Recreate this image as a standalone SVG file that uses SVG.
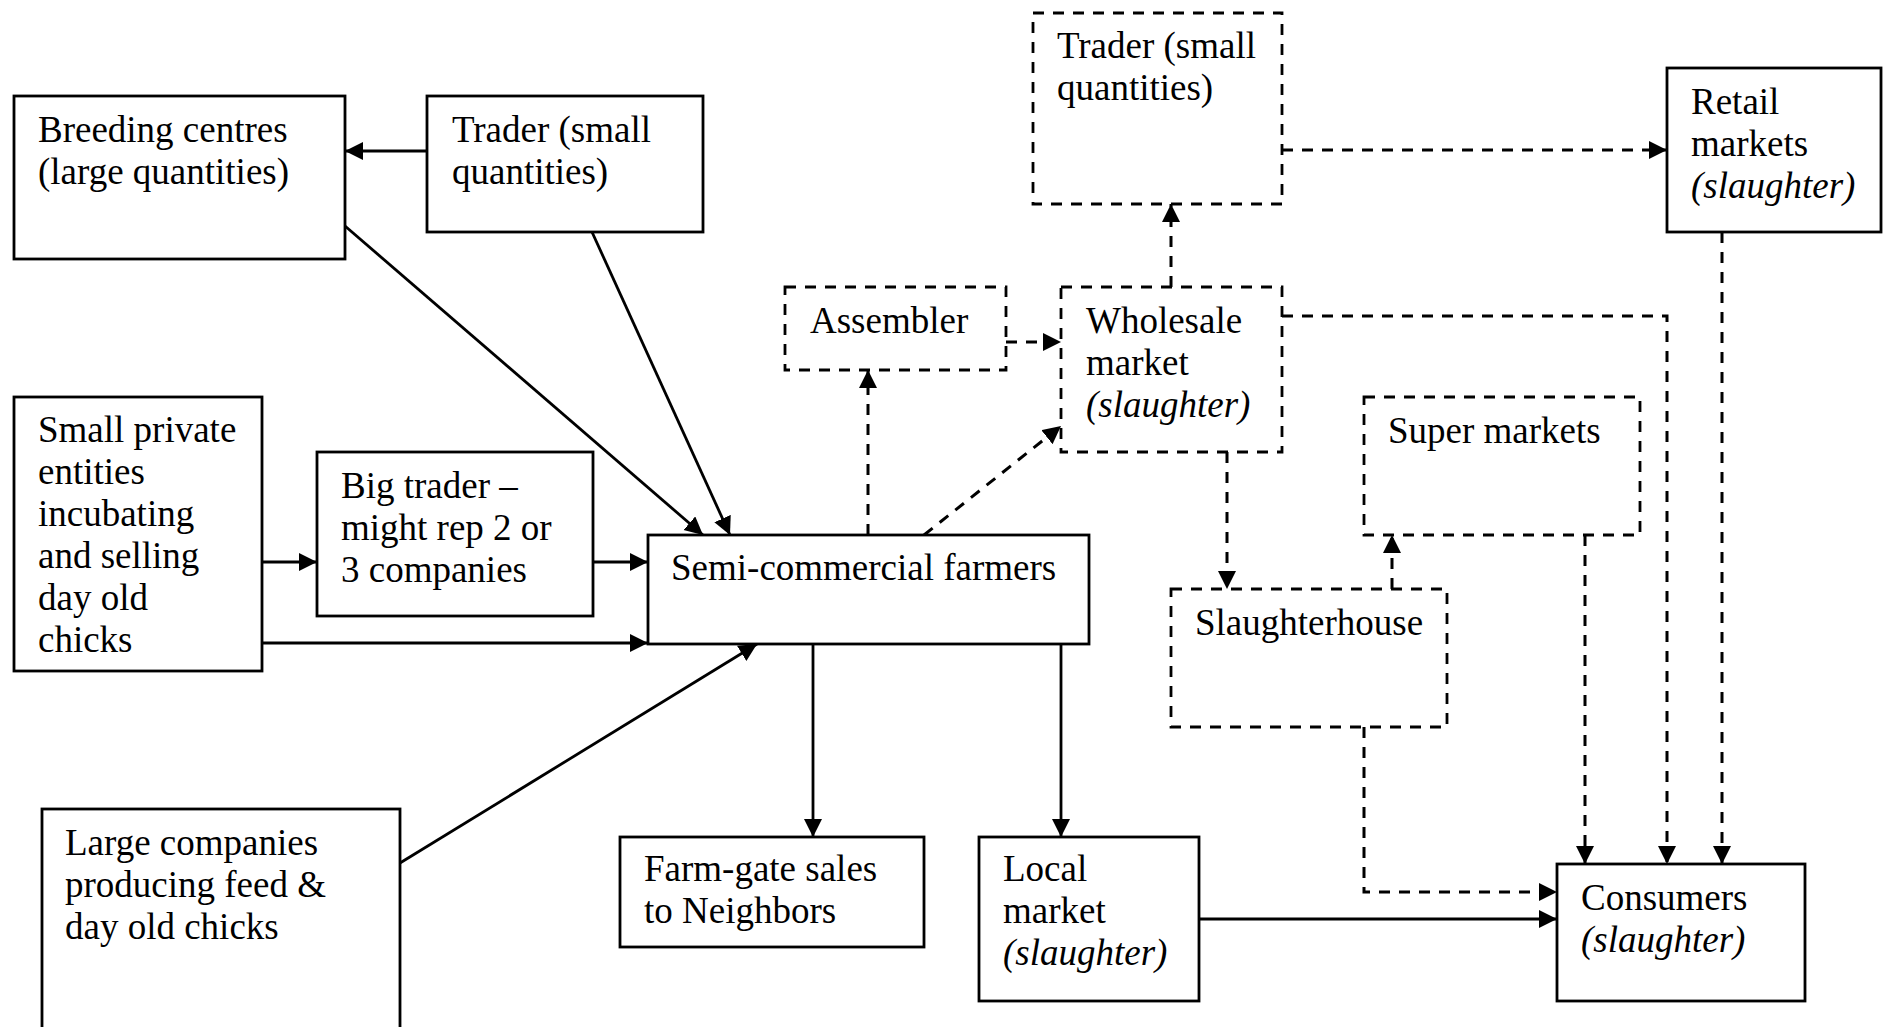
<svg xmlns="http://www.w3.org/2000/svg" width="1884" height="1027" viewBox="0 0 1884 1027">
  <style>
    .box { fill: #fff; stroke: #000; stroke-width: 2.8; }
    .dbox { fill: #fff; stroke: #000; stroke-width: 2.8; stroke-dasharray: 11 9; }
    .lbl { font-family: "Liberation Serif", "Times New Roman", serif; font-size: 37px; fill: #000; }
    .it { font-style: italic; }
    .ln { fill: none; stroke: #000; stroke-width: 2.8; marker-end: url(#arr); }
    .dln { fill: none; stroke: #000; stroke-width: 3; stroke-dasharray: 11 9; marker-end: url(#arr); }
  </style>
  <defs>
    <marker id="arr" markerUnits="userSpaceOnUse" markerWidth="19" markerHeight="19" refX="18" refY="9" orient="auto">
      <path d="M0,0 L18,9 L0,18 Z" fill="#000"/>
    </marker>
  </defs>
  <rect width="1884" height="1027" fill="#fff"/>

  <!-- connectors -->
  <g id="connectors">
    <path class="ln" d="M427,151 L345,151"/>
    <path class="ln" d="M345,226 L703,535"/>
    <path class="ln" d="M592,232 L730,535"/>
    <path class="ln" d="M262,562 L317,562"/>
    <path class="ln" d="M593,562 L648,562"/>
    <path class="ln" d="M262,643 L648,643"/>
    <path class="ln" d="M400,863 L757,644"/>
    <path class="ln" d="M813,644 L813,837"/>
    <path class="ln" d="M1061,644 L1061,837"/>
    <path class="ln" d="M1199,919 L1557,919"/>
    <path class="dln" d="M868,535 L868,370"/>
    <path class="dln" d="M924,535 L1061,426"/>
    <path class="dln" d="M1006,342 L1061,342"/>
    <path class="dln" d="M1171,287 L1171,204"/>
    <path class="dln" d="M1282,150 L1667,150"/>
    <path class="dln" d="M1227,452 L1227,589"/>
    <path class="dln" d="M1392,589 L1392,535"/>
    <path class="dln" d="M1585,535 L1585,864"/>
    <path class="dln" d="M1282,316 L1667,316 L1667,864"/>
    <path class="dln" d="M1722,232 L1722,864"/>
    <path class="dln" d="M1364,727 L1364,892 L1557,892"/>
  </g>

  <!-- nodes -->
  <g id="breeding-centres">
    <rect class="box" x="14" y="96" width="331" height="163"/>
    <text class="lbl" x="38" y="142">Breeding centres</text>
    <text class="lbl" x="38" y="184">(large quantities)</text>
  </g>
  <g id="trader-small">
    <rect class="box" x="427" y="96" width="276" height="136"/>
    <text class="lbl" x="452" y="142">Trader (small</text>
    <text class="lbl" x="452" y="184">quantities)</text>
  </g>
  <g id="trader-small-2">
    <rect class="dbox" x="1033" y="13" width="249" height="191"/>
    <text class="lbl" x="1057" y="58">Trader (small</text>
    <text class="lbl" x="1057" y="100">quantities)</text>
  </g>
  <g id="retail-markets">
    <rect class="box" x="1667" y="68" width="214" height="164"/>
    <text class="lbl" x="1691" y="114">Retail</text>
    <text class="lbl" x="1691" y="156">markets</text>
    <text class="lbl it" x="1691" y="198">(slaughter)</text>
  </g>
  <g id="assembler">
    <rect class="dbox" x="785" y="287" width="221" height="83"/>
    <text class="lbl" x="810" y="333">Assembler</text>
  </g>
  <g id="wholesale-market">
    <rect class="dbox" x="1061" y="287" width="221" height="165"/>
    <text class="lbl" x="1086" y="333">Wholesale</text>
    <text class="lbl" x="1086" y="375">market</text>
    <text class="lbl it" x="1086" y="417">(slaughter)</text>
  </g>
  <g id="small-private-entities">
    <rect class="box" x="14" y="397" width="248" height="274"/>
    <text class="lbl" x="38" y="442">Small private</text>
    <text class="lbl" x="38" y="484">entities</text>
    <text class="lbl" x="38" y="526">incubating</text>
    <text class="lbl" x="38" y="568">and selling</text>
    <text class="lbl" x="38" y="610">day old</text>
    <text class="lbl" x="38" y="652">chicks</text>
  </g>
  <g id="big-trader">
    <rect class="box" x="317" y="452" width="276" height="164"/>
    <text class="lbl" x="341" y="498">Big trader –</text>
    <text class="lbl" x="341" y="540">might rep 2 or</text>
    <text class="lbl" x="341" y="582">3 companies</text>
  </g>
  <g id="semi-commercial-farmers">
    <rect class="box" x="648" y="535" width="441" height="109"/>
    <text class="lbl" x="671" y="580">Semi-commercial farmers</text>
  </g>
  <g id="super-markets">
    <rect class="dbox" x="1364" y="397" width="276" height="138"/>
    <text class="lbl" x="1388" y="443">Super markets</text>
  </g>
  <g id="slaughterhouse">
    <rect class="dbox" x="1171" y="589" width="276" height="138"/>
    <text class="lbl" x="1195" y="635">Slaughterhouse</text>
  </g>
  <g id="large-companies">
    <rect class="box" x="42" y="809" width="358" height="240"/>
    <text class="lbl" x="65" y="855">Large companies</text>
    <text class="lbl" x="65" y="897">producing feed &amp;</text>
    <text class="lbl" x="65" y="939">day old chicks</text>
  </g>
  <g id="farm-gate-sales">
    <rect class="box" x="620" y="837" width="304" height="110"/>
    <text class="lbl" x="644" y="881">Farm-gate sales</text>
    <text class="lbl" x="644" y="923">to Neighbors</text>
  </g>
  <g id="local-market">
    <rect class="box" x="979" y="837" width="220" height="164"/>
    <text class="lbl" x="1003" y="881">Local</text>
    <text class="lbl" x="1003" y="923">market</text>
    <text class="lbl it" x="1003" y="965">(slaughter)</text>
  </g>
  <g id="consumers">
    <rect class="box" x="1557" y="864" width="248" height="137"/>
    <text class="lbl" x="1581" y="910">Consumers</text>
    <text class="lbl it" x="1581" y="952">(slaughter)</text>
  </g>
</svg>
